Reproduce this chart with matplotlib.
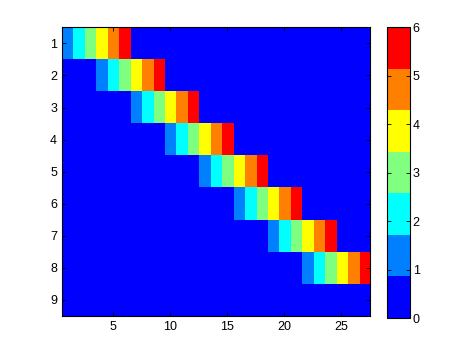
import numpy as np
import matplotlib
matplotlib.use('Agg')
import matplotlib.pyplot as plt
from matplotlib.colors import ListedColormap

plt.rcParams['font.family'] = ['Liberation Sans', 'DejaVu Sans']

# rows and columns of the matrix
n_rows = 9
n_cols = 27
# first column (1-based) of the coloured ramp in each row; row 9 is empty
row_starts = [1, 4, 7, 10, 13, 16, 19, 22]
ramp = [1, 2, 3, 4, 5, 6]

x_ticks = [5, 10, 15, 20, 25]
y_ticks = [1, 2, 3, 4, 5, 6, 7, 8, 9]
cbar_ticks = [0, 1, 2, 3, 4, 5, 6]

# MATLAB jet(7)
jet7 = ListedColormap([(0, 0, 1), (0, 0.5, 1), (0, 1, 1), (0.5, 1, 0.5),
                       (1, 1, 0), (1, 0.5, 0), (1, 0, 0)])

data = np.zeros((n_rows, n_cols))
for r, s in enumerate(row_starts):
    data[r, s - 1:s - 1 + len(ramp)] = ramp

fig = plt.figure(figsize=(4.74, 3.55), dpi=100)
ax = fig.add_axes([0.1308, 0.1099, 0.6498, 0.8131])
im = ax.imshow(data, cmap=jet7, vmin=0, vmax=6, aspect='auto',
               interpolation='nearest',
               extent=(0.5, n_cols + 0.5, n_rows + 0.5, 0.5))
ax.set_xticks(x_ticks)
ax.set_yticks(y_ticks)
ax.tick_params(direction='in', top=True, right=True, labelsize=9,
               length=3, width=0.6)
for sp in ax.spines.values():
    sp.set_linewidth(0.8)

cax = fig.add_axes([0.8175, 0.1042, 0.0485, 0.8188])
cb = fig.colorbar(im, cax=cax, ticks=cbar_ticks)
cb.outline.set_linewidth(0.8)
cax.tick_params(direction='in', left=True, right=True, labelsize=9,
                length=3, width=0.6, pad=1.5)

fig.savefig('out.png', dpi=100)
